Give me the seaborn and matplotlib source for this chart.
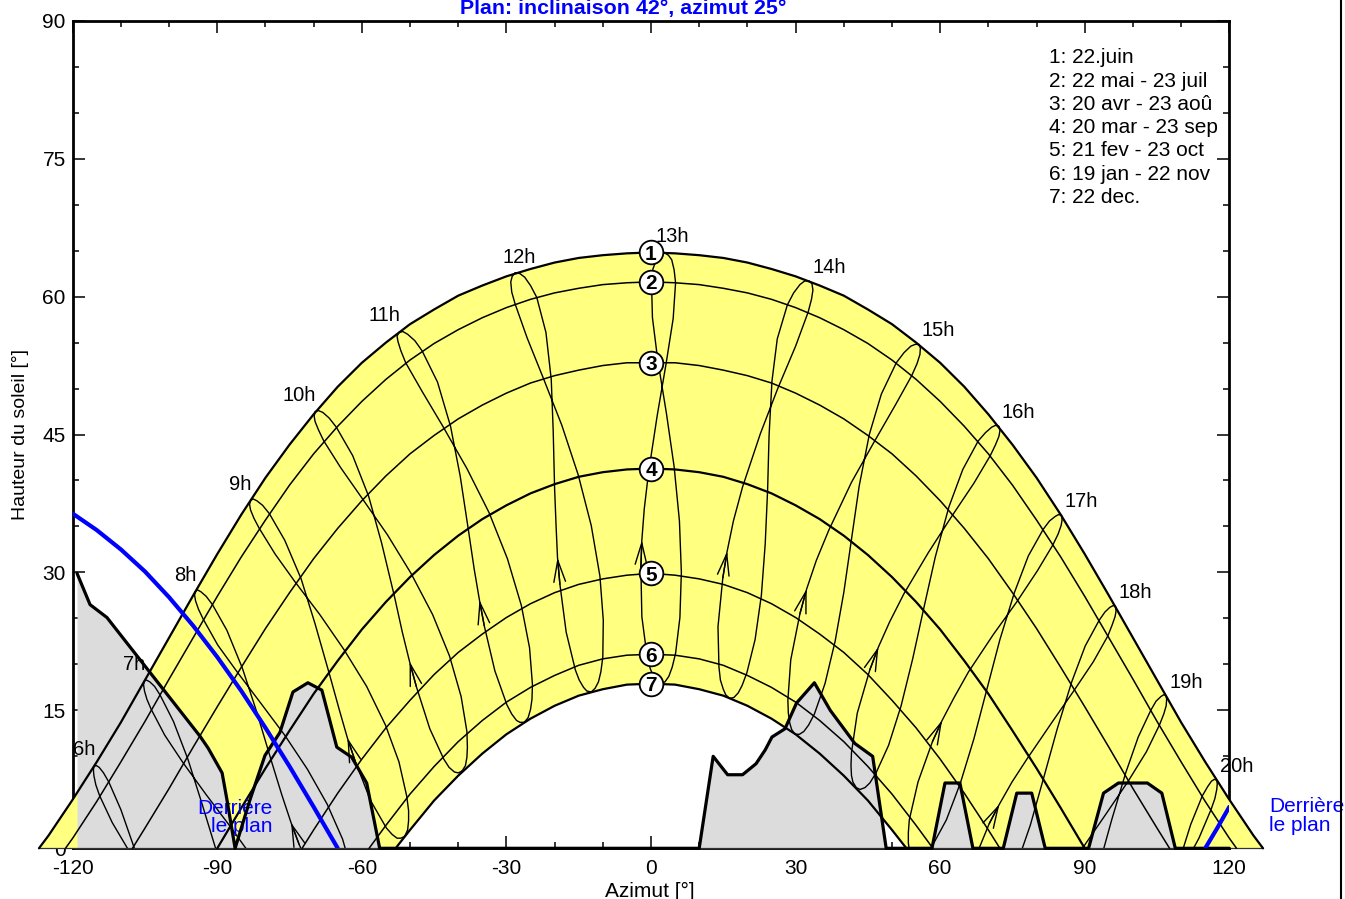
import matplotlib
matplotlib.use("Agg")
import matplotlib.pyplot as plt
import seaborn as sns

# day curves: azimuth [deg] and sun height [deg], 1 = 22 June ... 7 = 22 Dec
AZ_1 = [-127.0, -125, -120, -115, -110, -105, -100, -95, -90, -85, -80, -75, -70, -65, -60, -55, -50,
        -45, -40, -35, -30, -25, -20, -15, -10, -5, 0, 5, 10, 15, 20, 25, 30, 35, 40, 45, 50, 55, 60,
        65, 70, 75, 80, 85, 90, 95, 100, 105, 110, 115, 120, 125, 127.0]
ALT_1 = [0.0, 1.4, 5.3, 9.4, 13.7, 18.3, 22.9, 27.5, 32.0, 36.3, 40.3, 43.9, 47.2, 50.2, 52.8, 55.0,
         57.0, 58.6, 60.1, 61.2, 62.2, 63.0, 63.7, 64.2, 64.5, 64.7, 64.8, 64.7, 64.5, 64.2, 63.7, 63.0,
         62.2, 61.2, 60.1, 58.6, 57.0, 55.0, 52.8, 50.2, 47.2, 43.9, 40.3, 36.3, 32.0, 27.5, 22.9, 18.3,
         13.7, 9.4, 5.3, 1.4, 0.0]
AZ_2 = [-121.5, -120, -115, -110, -105, -100, -95, -90, -85, -80, -75, -70, -65, -60, -55, -50, -45,
        -40, -35, -30, -25, -20, -15, -10, -5, 0, 5, 10, 15, 20, 25, 30, 35, 40, 45, 50, 55, 60, 65,
        70, 75, 80, 85, 90, 95, 100, 105, 110, 115, 120, 121.5]
ALT_2 = [0.0, 1.1, 5.1, 9.4, 13.8, 18.4, 22.9, 27.4, 31.7, 35.7, 39.5, 42.9, 45.9, 48.6, 51.0, 53.1,
         54.9, 56.4, 57.7, 58.8, 59.7, 60.4, 60.9, 61.3, 61.5, 61.6, 61.5, 61.3, 60.9, 60.4, 59.7, 58.8,
         57.7, 56.4, 54.9, 53.1, 51.0, 48.6, 45.9, 42.9, 39.5, 35.7, 31.7, 27.4, 22.9, 18.4, 13.8, 9.4,
         5.1, 1.1, 0.0]
AZ_3 = [-107.6, -105, -100, -95, -90, -85, -80, -75, -70, -65, -60, -55, -50, -45, -40, -35, -30,
        -25, -20, -15, -10, -5, 0, 5, 10, 15, 20, 25, 30, 35, 40, 45, 50, 55, 60, 65, 70, 75, 80, 85,
        90, 95, 100, 105, 107.6]
ALT_3 = [0.0, 2.2, 6.5, 11.0, 15.4, 19.7, 23.9, 27.8, 31.5, 34.8, 37.8, 40.5, 42.9, 44.9, 46.7, 48.2,
         49.5, 50.6, 51.4, 52.0, 52.5, 52.8, 52.8, 52.8, 52.5, 52.0, 51.4, 50.6, 49.5, 48.2, 46.7, 44.9,
         42.9, 40.5, 37.8, 34.8, 31.5, 27.8, 23.9, 19.7, 15.4, 11.0, 6.5, 2.2, 0.0]
AZ_4 = [-90, -85, -80, -75, -70, -65, -60, -55, -50, -45, -40, -35, -30, -25, -20, -15, -10, -5, 0,
        5, 10, 15, 20, 25, 30, 35, 40, 45, 50, 55, 60, 65, 70, 75, 80, 85, 90]
ALT_4 = [0.0, 4.4, 8.7, 12.8, 16.8, 20.4, 23.8, 26.8, 29.5, 31.9, 34.0, 35.8, 37.3, 38.6, 39.6, 40.4,
         40.9, 41.2, 41.3, 41.2, 40.9, 40.4, 39.6, 38.6, 37.3, 35.8, 34.0, 31.9, 29.5, 26.8, 23.8, 20.4,
         16.8, 12.8, 8.7, 4.4, 0.0]
AZ_5 = [-72.4, -70, -65, -60, -55, -50, -45, -40, -35, -30, -25, -20, -15, -10, -5, 0, 5, 10, 15,
        20, 25, 30, 35, 40, 45, 50, 55, 60, 65, 70, 72.4]
ALT_5 = [0.0, 2.0, 6.0, 9.7, 13.1, 16.1, 18.9, 21.3, 23.3, 25.1, 26.6, 27.8, 28.7, 29.3, 29.7, 29.9,
         29.7, 29.3, 28.7, 27.8, 26.6, 25.1, 23.3, 21.3, 18.9, 16.1, 13.1, 9.7, 6.0, 2.0, 0.0]
AZ_6 = [-58.5, -55, -50, -45, -40, -35, -30, -25, -20, -15, -10, -5, 0, 5, 10, 15, 20, 25, 30, 35,
        40, 45, 50, 55, 58.5]
ALT_6 = [0.0, 2.5, 5.9, 8.9, 11.6, 13.9, 15.9, 17.5, 18.8, 19.9, 20.6, 21.0, 21.1, 21.0, 20.6, 19.9,
         18.8, 17.5, 15.9, 13.9, 11.6, 8.9, 5.9, 2.5, 0.0]
AZ_7 = [-53.0, -50, -45, -40, -35, -30, -25, -20, -15, -10, -5, 0, 5, 10, 15, 20, 25, 30, 35, 40,
        45, 50, 53.0]
ALT_7 = [0.0, 2.0, 5.2, 7.9, 10.3, 12.4, 14.1, 15.5, 16.6, 17.3, 17.8, 17.9, 17.8, 17.3, 16.6, 15.5,
         14.1, 12.4, 10.3, 7.9, 5.2, 2.0, 0.0]

LEGEND = ["1: 22.juin", "2: 22 mai - 23 juil", "3: 20 avr - 23 aoû", "4: 20 mar - 23 sep",
          "5: 21 fev - 23 oct", "6: 19 jan - 22 nov", "7: 22 dec."]

# hour lines, one point per date:
# 22dec 30dec 5jan 12jan 19jan 5feb 21feb 1mar 10mar 20mar 5avr 20avr 6mai 22mai 30mai 7jun 14jun
# 22jun 30jun 7jul 15jul 23jul 8aou 23aou 8sep 23sep 8oct 23oct 7nov 22nov 30nov 7dec 14dec
HOURS = [6, 7, 8, 9, 10, 11, 12, 13, 14, 15, 16, 17, 18, 19, 20]
_ = None
LOOP_AZ = [
    [_, _, _, _, _, _, _, _, _, -101.4, -104.5, -107.2, -110.0, -112.5, -113.6, -114.5, -115.1,
     -115.6, -115.7, -115.6, -115.2, -114.4, -111.8, -108.3, -103.6, -98.8, -94.0, _, _, _, _, _, _],
    [_, _, _, _, _, _, -84.1, -85.9, -87.9, -90.0, -93.2, -96.1, -99.1, -101.9, -103.0, -104.0, -104.7,
     -105.1, -105.3, -105.1, -104.6, -103.7, -100.9, -97.1, -92.4, -87.5, -82.7, -78.5, -75.1, -72.9,
     _, _, _],
    [-62.1, -62.9, -63.7, -64.8, -66.1, -69.5, -73.0, -74.7, -76.6, -78.6, -81.8, -84.8, -88.0, -91.0,
     -92.3, -93.4, -94.1, -94.6, -94.7, -94.5, -93.9, -92.9, -89.9, -85.9, -81.0, -76.0, -71.3, -67.2,
     -64.0, -62.1, -61.6, -61.4, -61.6],
    [-51.1, -51.9, -52.7, -53.7, -54.9, -58.2, -61.4, -63.0, -64.7, -66.6, -69.7, -72.6, -76.0, -79.2,
     -80.6, -81.8, -82.6, -83.1, -83.3, -83.1, -82.4, -81.3, -78.0, -73.9, -68.7, -63.7, -59.0, -55.1,
     -52.3, -50.7, -50.3, -50.3, -50.5],
    [-39.2, -40.0, -40.8, -41.9, -43.0, -45.9, -48.7, -50.1, -51.6, -53.2, -55.9, -58.6, -61.9, -65.3,
     -66.8, -68.1, -69.0, -69.7, -69.9, -69.7, -69.0, -67.9, -64.4, -60.0, -54.7, -49.8, -45.3, -41.8,
     -39.4, -38.2, -38.1, -38.2, -38.5],
    [-26.3, -27.2, -27.9, -28.9, -29.9, -32.4, -34.6, -35.6, -36.7, -37.8, -39.6, -41.6, -44.3, -47.5,
     -49.0, -50.5, -51.5, -52.3, -52.7, -52.5, -51.9, -50.9, -47.4, -43.2, -38.2, -33.6, -29.8, -26.9,
     -25.2, -24.6, -24.7, -25.0, -25.5],
    [-12.4, -13.3, -14.0, -14.9, -15.7, -17.6, -18.9, -19.4, -19.7, -20.0, -20.3, -20.7, -21.8, -23.7,
     -25.0, -26.2, -27.2, -28.2, -28.8, -29.1, -28.9, -28.2, -25.7, -22.4, -18.5, -15.1, -12.4, -10.6,
     -9.9, -10.0, -10.4, -10.9, -11.6],
    [2.0, 1.1, 0.5, -0.2, -0.8, -1.9, -2.1, -1.9, -1.4, -0.5, 1.3, 3.1, 4.6, 5.1,
     4.8, 4.3, 3.6, 2.7, 1.8, 1.1, 0.4, 0.1, 0.3, 1.4, 3.2, 4.8, 5.9, 6.3,
     6.0, 5.1, 4.4, 3.7, 2.9],
    [16.3, 15.5, 15.0, 14.4, 14.1, 13.9, 14.9, 15.8, 17.1, 19.0, 22.7, 26.3, 30.0, 32.6,
     33.3, 33.6, 33.4, 32.8, 31.9, 30.9, 29.6, 28.3, 26.2, 25.1, 24.5, 24.2, 23.7, 22.9,
     21.6, 19.9, 18.9, 18.1, 17.2],
    [29.9, 29.2, 28.8, 28.5, 28.4, 29.0, 30.9, 32.3, 34.3, 36.9, 41.6, 46.2, 50.7, 54.1,
     55.2, 55.8, 55.9, 55.6, 54.8, 53.9, 52.5, 50.9, 47.8, 45.3, 43.2, 41.6, 40.0, 38.2,
     36.1, 33.9, 32.7, 31.7, 30.8],
    [42.6, 41.9, 41.6, 41.5, 41.6, 42.8, 45.4, 47.2, 49.5, 52.5, 57.6, 62.4, 67.0, 70.4,
     71.5, 72.2, 72.4, 72.2, 71.5, 70.7, 69.4, 67.9, 64.7, 61.8, 59.0, 56.6, 54.3, 51.9,
     49.3, 46.7, 45.4, 44.4, 43.4],
    [54.2, 53.6, 53.4, 53.4, 53.6, 55.4, 58.4, 60.4, 62.9, 65.9, 71.1, 75.9, 80.2, 83.4,
     84.5, 85.1, 85.3, 85.2, 84.6, 83.9, 82.7, 81.4, 78.3, 75.4, 72.4, 69.7, 67.0, 64.2,
     61.3, 58.4, 57.0, 56.0, 55.0],
    [65.0, 64.5, 64.4, 64.5, 64.8, 66.9, 70.2, 72.3, 74.9, 78.0, 83.2, 87.7, 91.8, 94.8,
     95.7, 96.3, 96.5, 96.4, 95.9, 95.2, 94.2, 93.0, 90.1, 87.3, 84.3, 81.5, 78.7, 75.6,
     72.5, 69.4, 67.9, 66.8, 65.8],
    [_, _, _, _, _, 77.9, 81.4, 83.6, 86.3, 89.4, 94.5, 98.9, 102.8, 105.5, 106.4, 106.9, 107.0,
     106.9, 106.4, 105.8, 104.8, 103.7, 101.1, 98.5, 95.6, 92.8, 89.9, _, _, _, _, _, _],
    [_, _, _, _, _, _, _, _, _, 100.8, 105.8, 110.1, 113.7, 116.2, 117.0, 117.4, 117.5,
     117.4, 116.9, 116.3, 115.5, 114.4, 112.0, 109.6, 106.9, 104.3, _, _, _, _, _, _, _],
]
LOOP_ALT = [
    [_, _, _, _, _, _, _, _, _, -10.4, -4.9, 0.0, 4.2, 7.2, 8.2, 8.8, 9.0,
     8.9, 8.5, 7.9, 6.9, 5.7, 2.8, -0.3, -3.9, -7.3, -10.9, _, _, _, _, _, _],
    [_, _, _, _, _, _, -9.3, -6.9, -4.0, -0.6, 4.9, 9.7, 13.8, 16.7, 17.6, 18.1, 18.3,
     18.2, 17.8, 17.1, 16.2, 15.1, 12.3, 9.3, 5.9, 2.5, -1.0, -4.7, -8.3, -11.7, _, _, _],
    [-6.9, -7.3, -7.3, -7.0, -6.4, -3.7, 0.4, 2.8, 5.8, 9.2, 14.8, 19.6, 23.7, 26.5,
     27.4, 27.9, 28.1, 27.9, 27.5, 26.9, 26.0, 24.9, 22.1, 19.2, 15.8, 12.3, 8.6, 4.8,
     1.0, -2.5, -4.1, -5.2, -6.2],
    [1.3, 1.1, 1.1, 1.5, 2.2, 5.2, 9.5, 12.0, 15.1, 18.7, 24.4, 29.3, 33.5, 36.4,
     37.3, 37.8, 38.0, 37.8, 37.4, 36.8, 35.9, 34.8, 32.0, 29.0, 25.4, 21.6, 17.6, 13.4,
     9.4, 5.7, 4.1, 3.0, 2.0],
    [8.4, 8.2, 8.3, 8.8, 9.7, 13.0, 17.6, 20.3, 23.5, 27.3, 33.2, 38.3, 42.7, 45.8,
     46.8, 47.4, 47.6, 47.5, 47.0, 46.4, 45.5, 44.3, 41.4, 38.1, 34.1, 29.9, 25.4, 20.9,
     16.5, 12.7, 11.0, 9.9, 9.0],
    [13.7, 13.7, 13.9, 14.6, 15.6, 19.3, 24.2, 27.0, 30.4, 34.3, 40.5, 45.9, 50.7, 54.1,
     55.2, 55.9, 56.2, 56.1, 55.7, 55.1, 54.1, 52.8, 49.6, 45.9, 41.3, 36.5, 31.5, 26.4,
     21.8, 17.8, 16.2, 15.1, 14.2],
    [17.0, 17.1, 17.5, 18.3, 19.4, 23.5, 28.7, 31.6, 35.1, 39.1, 45.5, 51.0, 56.1, 59.9,
     61.2, 62.1, 62.5, 62.6, 62.2, 61.6, 60.5, 59.2, 55.5, 51.2, 46.0, 40.6, 35.1, 29.6,
     24.8, 20.8, 19.2, 18.1, 17.4],
    [17.9, 18.1, 18.7, 19.6, 20.8, 25.2, 30.5, 33.5, 36.9, 40.9, 47.1, 52.6, 57.6, 61.5,
     62.9, 64.0, 64.5, 64.8, 64.6, 64.0, 63.0, 61.6, 57.7, 53.1, 47.3, 41.5, 35.6, 30.0,
     25.1, 21.2, 19.7, 18.7, 18.1],
    [16.3, 16.7, 17.3, 18.3, 19.7, 24.1, 29.4, 32.3, 35.6, 39.3, 45.1, 50.0, 54.6, 58.3,
     59.7, 60.7, 61.4, 61.7, 61.7, 61.3, 60.4, 59.1, 55.4, 50.8, 44.9, 39.0, 33.1, 27.5,
     22.7, 19.1, 17.7, 16.9, 16.4],
    [12.4, 12.9, 13.6, 14.7, 16.1, 20.5, 25.5, 28.2, 31.3, 34.6, 39.8, 44.1, 48.2, 51.4,
     52.7, 53.7, 54.4, 54.8, 54.8, 54.6, 53.9, 52.8, 49.4, 45.0, 39.4, 33.6, 27.8, 22.5,
     17.9, 14.6, 13.4, 12.7, 12.4],
    [6.6, 7.2, 7.9, 9.0, 10.4, 14.7, 19.4, 21.9, 24.6, 27.7, 32.2, 36.1, 39.7, 42.7,
     43.9, 44.8, 45.4, 45.9, 46.0, 45.8, 45.2, 44.3, 41.2, 37.1, 31.7, 26.1, 20.6, 15.5,
     11.2, 8.2, 7.1, 6.6, 6.4],
    [-0.8, -0.2, 0.6, 1.7, 3.1, 7.2, 11.6, 13.9, 16.4, 19.2, 23.3, 26.8, 30.2, 33.0,
     34.2, 35.1, 35.7, 36.2, 36.3, 36.1, 35.6, 34.7, 31.8, 27.8, 22.7, 17.3, 11.9, 7.1,
     3.1, 0.3, -0.6, -1.0, -1.1],
    [-9.4, -8.6, -7.9, -6.7, -5.4, -1.5, 2.7, 4.8, 7.2, 9.7, 13.7, 17.1, 20.3, 23.1,
     24.3, 25.2, 25.8, 26.3, 26.4, 26.2, 25.7, 24.8, 22.0, 18.1, 13.0, 7.7, 2.5, -2.2,
     -6.0, -8.6, -9.4, -9.7, -9.7],
    [_, _, _, _, _, -10.9, -6.9, -4.9, -2.6, -0.1, 3.8, 7.2, 10.5, 13.4, 14.6, 15.5, 16.2,
     16.6, 16.7, 16.5, 16.0, 15.0, 12.1, 8.2, 3.1, -2.2, -7.4, _, _, _, _, _, _],
    [_, _, _, _, _, _, _, _, _, -9.9, -6.0, -2.4, 1.1, 4.2, 5.4, 6.4, 7.0,
     7.4, 7.5, 7.3, 6.7, 5.7, 2.6, -1.4, -6.6, -11.9, _, _, _, _, _, _, _],
]
JUNE = 17   # index of 22 June in the hour lists
ARROW = 7   # index of 1 March (arrow tip)

# far horizon profile
HORIZON_AZ = [-119.1, -116.4, -112.9, -93.6, -91.9, -89.0, -88.0, -86.3, -83.2, -80.1, -77.0, -74.3,
              -71.2, -68.3, -65.2, -62.1, -59.0, -56.3, 10.0, 12.9, 15.9, 19.0, 21.8, 23.7, 25.1,
              27.8, 30.2, 33.9, 37.2, 42.3, 46.0, 48.8, 58.3, 61.0, 64.1, 66.8, 73.1, 75.9, 79.0,
              81.8, 90.8, 93.9, 97.0, 103.0, 106.0, 108.8, 120.0]
HORIZON_ALT = [29.9, 26.5, 25.1, 12.2, 10.9, 8.2, 5.3, 0.0, 5.3, 10.1, 12.6, 17.0, 18.0, 17.2, 11.0,
               9.9, 7.1, 0.0, 0.0, 10.0, 8.0, 8.0, 9.2, 10.7, 12.1, 13.0, 15.8, 18.0, 15.0, 11.4, 10.0,
               0.0, 0.0, 7.1, 7.1, 0.0, 0.0, 6.0, 6.0, 0.0, 0.0, 6.0, 7.1, 7.1, 6.0, 0.0, 0.0]

# limit "behind the plane" (tilt 42, azimuth 25)
PLANE_AZ_L = [-120, -115, -110, -105, -100, -95, -90, -85, -80, -75, -70, -65]
PLANE_ALT_L = [36.4, 34.6, 32.5, 30.1, 27.3, 24.2, 20.8, 17.1, 13.1, 8.9, 4.5, 0.0]
PLANE_AZ_R = [115, 117.5, 120]
PLANE_ALT_R = [0.0, 2.2, 4.5]

W, H = 1345, 899
YELLOW = "#FFFF80"
GREY = "#DCDCDC"
BLUE = "#0000FF"

sns.set_theme(style="white")
plt.rcParams["font.family"] = ["Liberation Sans", "DejaVu Sans"]
plt.rcParams.update({"text.color": "black", "axes.labelcolor": "black",
                     "xtick.color": "black", "ytick.color": "black",
                     "axes.unicode_minus": False})

fig = plt.figure(figsize=(W / 100, H / 100), dpi=100)
ax = fig.add_axes([72.7 / W, 1 - 848.3 / H, (1229.3 - 72.7) / W, (848.3 - 20.7) / H])


def line(x, y, lw, color="black", z=4, clip=True):
    sns.lineplot(x=list(x), y=list(y), sort=False, estimator=None, color=color,
                 linewidth=lw, ax=ax)
    ln = ax.lines[-1]
    ln.set_zorder(z)
    ln.set_clip_on(clip)
    return ln


# yellow band between 22 June and 22 Dec
ax.fill(AZ_1 + AZ_7[::-1], ALT_1 + ALT_7[::-1], color=YELLOW, lw=0, zorder=3, clip_on=False)

# horizon
ax.fill_between(HORIZON_AZ, HORIZON_ALT, 0, color=GREY, lw=0, zorder=3.2)
line([AZ_1[0], AZ_1[-1]], [0, 0], 0.9, color="#333333", z=3.4, clip=False)

# day curves
curves = [(AZ_1, ALT_1), (AZ_2, ALT_2), (AZ_3, ALT_3), (AZ_4, ALT_4),
          (AZ_5, ALT_5), (AZ_6, ALT_6), (AZ_7, ALT_7)]
for i, (az, alt) in enumerate(curves):
    line(az, alt, 1.6 if i in (0, 3, 6) else 1.1, clip=False)

# hour lines with arrows and labels
for h, az, alt in zip(HOURS, LOOP_AZ, LOOP_ALT):
    pts = [(a, b) for a, b in zip(az, alt) if a is not None]
    pts.append(pts[0])
    line([p[0] for p in pts], [p[1] for p in pts], 1.0)

    if alt[ARROW] is not None and alt[ARROW] > 0:
        ax.annotate("", xy=(az[ARROW], alt[ARROW]), xytext=(az[ARROW - 1], alt[ARROW - 1]),
                    arrowprops=dict(arrowstyle="->,head_length=1.55,head_width=0.42",
                                    color="black", lw=1.0, shrinkA=0, shrinkB=0,
                                    mutation_scale=10), zorder=4)

    if h < 12:
        ha, off = "right", (1, 11)
    elif h == 12:
        ha, off = "center", (4, 10)
    elif h == 13:
        ha, off = "center", (8, 10)
    else:
        ha, off = "left", (3, 8)
    ax.annotate(f"{h}h", (az[JUNE], alt[JUNE]), xytext=off, textcoords="offset pixels",
                ha=ha, va="baseline", fontsize=14.5, zorder=6, annotation_clip=False)

ax.text(-78.5, 1.75, "Derrière\nle plan", ha="right", va="baseline", multialignment="right",
        linespacing=0.97, color=BLUE, fontsize=15, zorder=4.2)

line(HORIZON_AZ, HORIZON_ALT, 2.3, z=4.5, clip=False)

# plane limit
line(PLANE_AZ_L, PLANE_ALT_L, 3.0, color=BLUE, z=5)
line(PLANE_AZ_R, PLANE_ALT_R, 3.0, color=BLUE, z=5)
ax.text(128.3, 1.9, "Derrière\nle plan", ha="left", va="baseline", multialignment="left",
        linespacing=0.97, color=BLUE, fontsize=15)

# numbered markers at noon
noon = [alt[az.index(0)] for az, alt in curves]
sns.scatterplot(x=[0] * len(noon), y=noon, s=290, color="white", edgecolor="black",
                linewidth=1.3, zorder=6, clip_on=False, legend=False, ax=ax)
for i, a in enumerate(noon):
    ax.text(0, a, str(i + 1), ha="center", va="center_baseline", fontsize=15,
            fontweight="bold", zorder=7)

ax.set_xlim(-120, 120)
ax.set_ylim(0, 90)
ax.set_xticks([-120, -90, -60, -30, 0, 30, 60, 90, 120])
ax.set_xticks(list(range(-120, 121, 10)), minor=True)
ax.set_yticks([0, 15, 30, 45, 60, 75, 90])
ax.set_yticks(list(range(0, 91, 5)), minor=True)
ax.set_xlabel("")
ax.set_ylabel("")
ax.tick_params(which="both", direction="in", top=True, right=True, bottom=True, left=True,
               colors="black", labelsize=15, width=1.1)
ax.tick_params(which="major", length=8.5)
ax.tick_params(which="minor", length=4)
ax.tick_params(axis="x", pad=8)
ax.tick_params(axis="y", pad=5)
for s in ax.spines.values():
    s.set_linewidth(2.0)
    s.set_color("black")

fig.text(623.5 / W, 1 - 14 / H, "Plan: inclinaison 42°, azimut 25°", color=BLUE,
         fontweight="bold", fontsize=15.4, ha="center", va="baseline")
fig.text(21 / W, 1 - 434 / H, "Hauteur du soleil [°]", rotation=90, ha="center",
         va="center", fontsize=14)
fig.text(650 / W, 1 - 897 / H, "Azimut [°]", ha="center", va="baseline", fontsize=15)
for k, t in enumerate(LEGEND):
    fig.text(1049 / W, 1 - (63.3 + 23.3 * k) / H, t, ha="left", va="baseline", fontsize=15)
fig.add_artist(plt.Line2D([1341 / W, 1341 / W], [0, 1], color="black", lw=1.5))

fig.savefig("out.png", dpi=100)
